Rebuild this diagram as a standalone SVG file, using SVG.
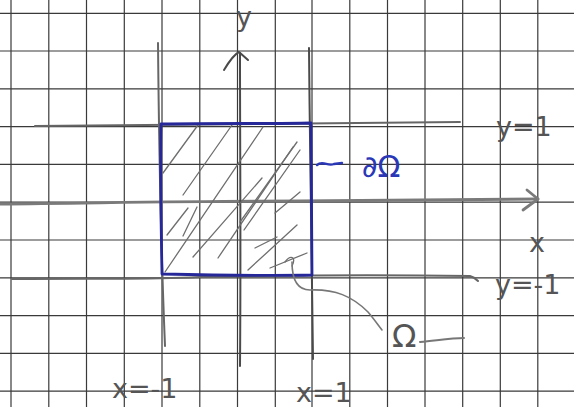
<svg xmlns="http://www.w3.org/2000/svg" width="574" height="407" viewBox="0 0 574 407">
<style>
.grid{stroke:#3a3a3a;stroke-width:1.2;fill:none}
.pencil{stroke:#666;stroke-width:2;fill:none;stroke-linecap:round;stroke-linejoin:round}
.axis{stroke:#7a7a7a;stroke-width:2.8;fill:none;stroke-linecap:round;stroke-linejoin:round}
.hatch{stroke:#6e6e6e;stroke-width:1.3;fill:none;stroke-linecap:round}
.blue{stroke:#26289a;stroke-width:2.8;fill:none;stroke-linecap:round;stroke-linejoin:round}
.lbl{font-family:"DejaVu Sans","Liberation Sans",sans-serif;fill:#555;font-size:27px}
.blbl{font-family:"DejaVu Sans","Liberation Sans",sans-serif;fill:#2a38b8;font-size:30px}
</style>
<rect width="574" height="407" fill="#ffffff"/>
<g id="grid" class="grid">
<path d="M11,0V407M48.8,0V407M86.5,0V407M124.3,0V407M162,0V407M199.8,0V407M237.5,0V407M275.3,0V407M312,0V407M349.8,0V407M387.5,0V407M425,0V407M462.7,0V407M500.3,0V407M537.8,0V407"/>
<path d="M0,13.3H574M0,51H574M0,88.8H574M0,126.6H574M0,164.4H574M0,202.2H574M0,240H574M0,277.8H574M0,315.6H574M0,353.4H574M0,391.2H574"/>
</g>
<g id="x-axis">
<path class="axis" d="M0,204 C100,203 200,201 300,201 C400,200 480,200 538,199"/>
<path class="axis" d="M527,190 L538,199 L523,210"/>
</g>
<g id="y-axis">
<path class="pencil" d="M240,53 C240,150 241,250 240,366" style="stroke:#4a4a4a"/>
<path class="pencil" d="M224,70 C230,60 235,54 239,52 L248,60" style="stroke:#4a4a4a"/>
</g>
<g id="line-y1"><path class="pencil" d="M35,126 C150,125 300,124 460,122"/></g>
<g id="line-ym1"><path class="pencil" d="M12,279 C120,278 140,280 200,277 C300,275 400,275 470,276 C474,277 476,279 478,281"/></g>
<g id="line-xm1"><path class="pencil" d="M158,43 C159,150 161,250 165,346"/></g>
<g id="line-x1"><path class="pencil" d="M309,48 C310,150 311,250 313,359" style="stroke:#4a4a4a"/></g>
<g id="omega-region">
<g class="hatch">
<path d="M163,173 L198,125"/>
<path d="M183,195 L232,125"/>
<path d="M167,235 L188,208"/>
<path d="M183,236 L197,207"/>
<path d="M165,272 L263,127"/>
<path d="M193,257 L262,178"/>
<path d="M218,258 L293,147"/>
<path d="M240,222 L297,142"/>
<path d="M244,230 L300,150"/>
<path d="M248,270 L297,225"/>
<path d="M255,248 L277,237"/>
<path d="M270,268 L307,253"/>
<path d="M275,213 L300,192"/>
<path d="M285,262 C290,255 297,256 292,266"/>
</g>
<path class="blue" d="M161,124 C220,123 270,124 311,123 C311,170 312,230 312,275 C260,276 210,275 162,274 C161,220 160,170 161,124 Z"/>
</g>
<g id="connectors">
<path d="M317,165 C323,160 328,167 334,164 L342,163" stroke="#2a38b8" stroke-width="2.4" fill="none" stroke-linecap="round"/>
<path class="pencil" d="M292,262 C292,278 296,290 310,290 C335,289 352,296 368,312 C374,319 378,325 382,330" style="stroke:#777;stroke-width:1.6"/>
</g>
<g id="label-dOmega"><text class="blbl" x="362" y="177">∂Ω</text></g>
<g id="label-Omega"><text class="lbl" x="392" y="347" style="font-size:32px">Ω</text><path class="pencil" d="M420,342 C440,340 452,338 464,338" style="stroke:#777"/></g>
<g id="label-y1"><text class="lbl" x="496" y="136">y=1</text></g>
<g id="label-ym1"><text class="lbl" x="495" y="294">y=-1</text></g>
<g id="label-x"><text class="lbl" x="529" y="252">x</text></g>
<g id="label-y"><text class="lbl" x="236" y="26">y</text></g>
<g id="label-xm1"><text class="lbl" x="112" y="398">x=-1</text></g>
<g id="label-x1"><text class="lbl" x="296" y="402">x=1</text></g>
</svg>
